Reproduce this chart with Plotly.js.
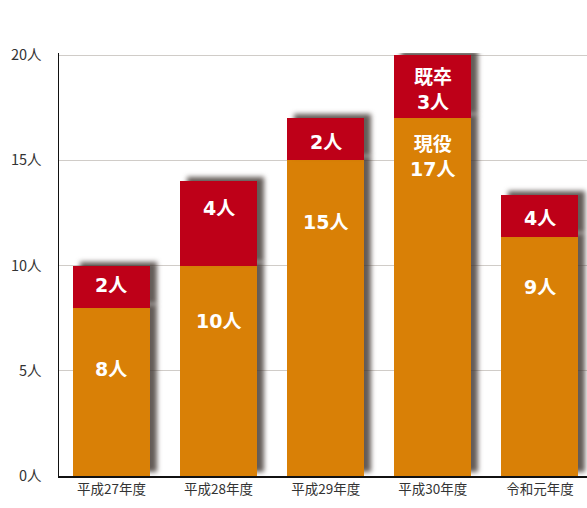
<!DOCTYPE html>
<html>
<head>
<meta charset="utf-8">
<script src="https://cdn.plot.ly/plotly-3.0.1.min.js"></script>
<style>
  html, body { margin: 0; padding: 0; background: #fff; }
  #chart { width: 587px; height: 508px; }
  .barlayer .point path { filter: drop-shadow(7px -4px 2.5px rgba(60, 50, 45, 0.8)); }
</style>
</head>
<body>
<div id="chart"></div>
<script>
// Categories (fiscal years)
const categories = ['平成27年度', '平成28年度', '平成29年度', '平成30年度', '令和元年度'];

// Bar heights as drawn in the picture
const genekiValues = [8, 10, 15, 17, 11.35];   // 現役 (orange, bottom)
const kisotsuValues = [2, 4, 2, 3, 2];         // 既卒 (red, top)

// Label texts as printed on the bars
const genekiLabels = ['8人', '10人', '15人', '現役<br>17人', '9人'];
const kisotsuLabels = ['2人', '4人', '2人', '既卒<br>3人', '4人'];

// Where each label sits (in axis units)
const genekiLabelY = [5.08, 7.36, 12.07, 15.2, 8.98];
const kisotsuLabelY = [9.07, 12.73, 15.87, 18.36, 12.26];

// Y-axis ticks
const yTickVals = [0, 5, 10, 15, 20];
const yTickText = ['0人', '5人', '10人', '15人', '20人'];

const orange = '#D98006';
const red = '#BE0018';

const traces = [
  {
    type: 'bar', name: '現役', x: categories, y: genekiValues,
    marker: { color: orange, line: { width: 0 } }, width: 0.72,
    hoverinfo: 'skip'
  },
  {
    type: 'bar', name: '既卒', x: categories, y: kisotsuValues,
    marker: { color: red, line: { width: 0 } }, width: 0.72,
    hoverinfo: 'skip'
  }
];

const labelFont = { family: '"DejaVu Sans", "Noto Sans CJK JP", sans-serif', size: 19, color: '#ffffff', weight: 900 };
const annotations = [];
categories.forEach((c, i) => {
  annotations.push({ x: c, y: genekiLabelY[i], xref: 'x', yref: 'y', text: '<b>' + genekiLabels[i] + '</b>', showarrow: false, font: labelFont, align: 'center' });
  annotations.push({ x: c, y: kisotsuLabelY[i], xref: 'x', yref: 'y', text: '<b>' + kisotsuLabels[i] + '</b>', showarrow: false, font: labelFont, align: 'center' });
});

const layout = {
  width: 587, height: 508,
  margin: { l: 59, r: 0, t: 53, b: 32 },
  paper_bgcolor: '#ffffff', plot_bgcolor: '#ffffff',
  barmode: 'stack',
  showlegend: false,
  font: { family: '"Noto Sans CJK JP", "Noto Sans", sans-serif', color: '#333333' },
  xaxis: {
    type: 'category', range: [-0.49, 4.44],
    showline: true, linecolor: '#111111', linewidth: 1.5,
    showgrid: false, zeroline: false, ticks: '',
    tickfont: { size: 13.5, color: '#333333' },
    fixedrange: true
  },
  yaxis: {
    range: [0, 20.1],
    tickvals: yTickVals, ticktext: yTickText,
    showline: true, linecolor: '#111111', linewidth: 1.5,
    showgrid: true, gridcolor: '#d0ccc8', gridwidth: 1,
    zeroline: false, ticks: '',
    ticklabelstandoff: 13,
    tickfont: { size: 14.5, color: '#333333' },
    fixedrange: true
  },
  annotations: annotations
};

Plotly.newPlot('chart', traces, layout, { staticPlot: true, displayModeBar: false });
</script>
</body>
</html>
